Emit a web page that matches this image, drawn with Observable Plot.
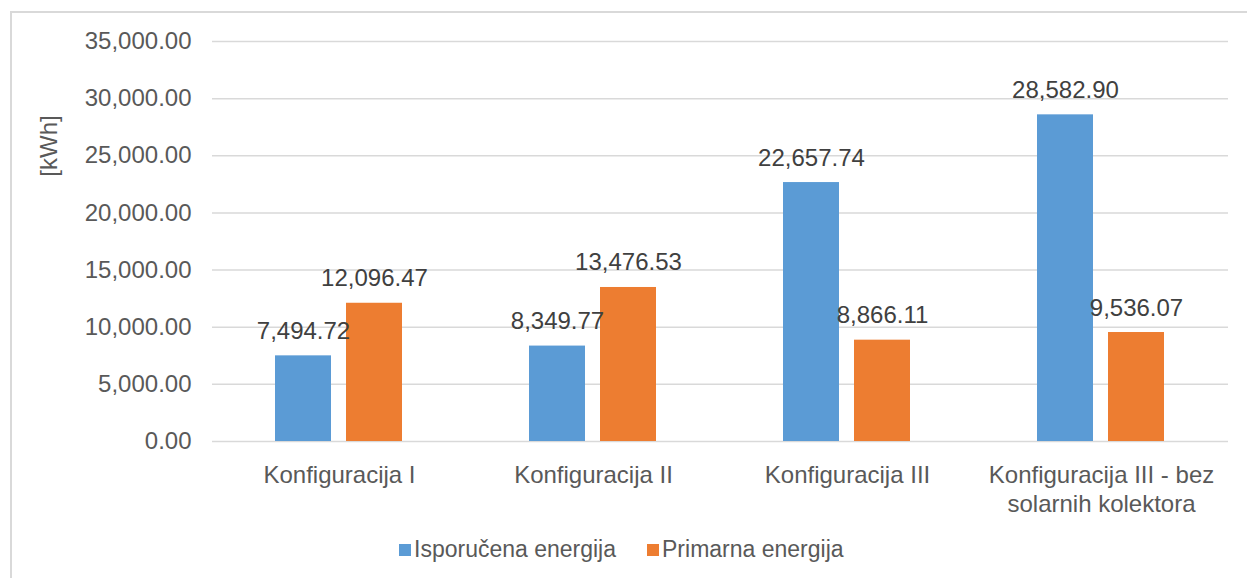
<!DOCTYPE html>
<html>
<head>
<meta charset="utf-8">
<script src="https://cdn.jsdelivr.net/npm/d3@7"></script>
<script src="https://cdn.jsdelivr.net/npm/@observablehq/plot@0.6"></script>
<style>
  html, body { margin: 0; padding: 0; background: #fff; }
  #wrap { position: relative; width: 1247px; height: 578px; overflow: hidden; font-family: "Liberation Sans", Arial, sans-serif; }
  #frame { position: absolute; left: 10px; top: 11px; width: 1300px; height: 700px; border-left: 2px solid #d9d9d9; border-top: 2px solid #d9d9d9; box-sizing: border-box; }
  #chart { position: absolute; left: 0; top: 0; }
  #legend { position: absolute; left: 399px; top: 536px; display: flex; align-items: center; font-size: 23px; color: #595959; white-space: nowrap; }
  .sw { display: inline-block; width: 12px; height: 12px; margin-right: 3px; }
  .item { display: flex; align-items: center; margin-right: 31px; }
</style>
</head>
<body>
<div id="wrap">
  <div id="frame"></div>
  <div id="chart"></div>
  <div id="legend"></div>
</div>
<script>
const categories = ["Konfiguracija I", "Konfiguracija II", "Konfiguracija III", "Konfiguracija III - bez\nsolarnih kolektora"];
const series = ["Isporučena energija", "Primarna energija"];
const isporucena = [7494.72, 8349.77, 22657.74, 28582.90];
const primarna = [12096.47, 13476.53, 8866.11, 9536.07];
const yTicks = [0, 5000, 10000, 15000, 20000, 25000, 30000, 35000];
const colors = ["#5B9BD5", "#ED7D31"];
const yLabel = "[kWh]";

const data = [];
categories.forEach((c, i) => {
  data.push({category: c, series: series[0], value: isporucena[i]});
  data.push({category: c, series: series[1], value: primarna[i]});
});

const fmt = d3.format(",.2f");

const plot = Plot.plot({
  width: 1247,
  height: 520,
  marginLeft: 211,
  marginRight: 19,
  marginTop: 41,
  marginBottom: 79,
  style: {fontFamily: "'Liberation Sans', Arial, sans-serif", fontSize: "24px", color: "#595959", background: "transparent", overflow: "visible"},
  fx: {domain: categories, padding: 0, label: null, axis: null},
  x: {domain: series, axis: null, paddingInner: 0.208, paddingOuter: 0.868},
  y: {domain: [0, 35000], axis: null},
  color: {domain: series, range: colors},
  marks: [
    Plot.ruleY(yTicks, {stroke: "#d9d9d9", strokeWidth: 1.5}),
    Plot.barY(data, {fx: "category", x: "series", y: "value", fill: "series"}),
    Plot.text(data, {fx: "category", x: "series", y: "value", text: d => fmt(d.value), lineAnchor: "bottom", dy: -17, fill: "#404040"}),
    Plot.axisY(yTicks, {tickSize: 0, tickPadding: 21, tickFormat: fmt, label: null, fill: "#595959"}),
    Plot.axisFx({anchor: "bottom", tickSize: 0, tickPadding: 22, label: null, lineHeight: 1.17, fill: "#595959"})
  ]
});
document.getElementById("chart").appendChild(plot);

// y-axis title
d3.select(plot).append("text")
  .attr("transform", "translate(48,146) rotate(-90)")
  .attr("text-anchor", "middle")
  .attr("dominant-baseline", "central")
  .attr("fill", "#595959")
  .style("font-size", "24px")
  .text(yLabel);

const legend = d3.select("#legend");
series.forEach((s, i) => {
  const it = legend.append("div").attr("class", "item");
  it.append("span").attr("class", "sw").style("background", colors[i]);
  it.append("span").text(s);
});
</script>
</body>
</html>
